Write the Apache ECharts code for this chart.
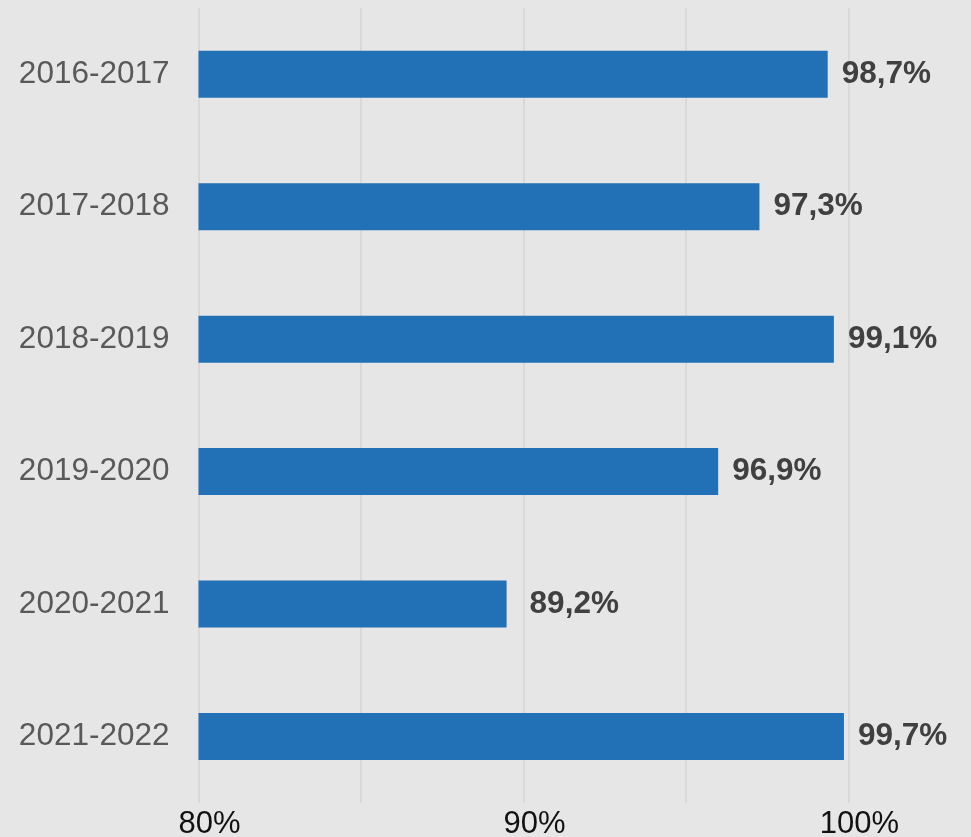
<!DOCTYPE html>
<html>
<head>
<meta charset="utf-8">
<script src="https://cdn.jsdelivr.net/npm/echarts@6/dist/echarts.min.js"></script>
<style>
  html, body { margin: 0; padding: 0; background: #e6e6e6; }
  #chart { width: 971px; height: 837px; }
</style>
</head>
<body>
<div id="chart"></div>
<script>
// Categories (top to bottom)
const categories = ['2016-2017', '2017-2018', '2018-2019', '2019-2020', '2020-2021', '2021-2022'];
// Bar lengths (percent)
const barValues = [99.36, 97.26, 99.55, 95.99, 89.48, 99.86];
// Value label texts as printed in the picture
const labelTexts = ['98,7%', '97,3%', '99,1%', '96,9%', '89,2%', '99,7%'];
// X axis tick labels shown
const xTickLabels = [80, 90, 100];

const FONT = '"Liberation Sans", Arial, sans-serif';

const seriesData = barValues.map(function (v, i) {
  const item = { value: v };
  if (i === 4) item.label = { distance: 23 };
  return item;
});

const chart = echarts.init(document.getElementById('chart'), null, { renderer: 'canvas' });
chart.setOption({
  backgroundColor: '#e6e6e6',
  animation: false,
  grid: { left: 198.5, top: 8, bottom: 34.3, right: 25, containLabel: false, outerBoundsMode: 'none' },
  xAxis: {
    type: 'value',
    min: 80,
    max: 103,
    interval: 5,
    axisLine: { show: false },
    axisTick: { show: false },
    splitLine: { show: true, showMaxLine: false, lineStyle: { color: '#d9d9d9', width: 2 } },
    axisLabel: {
      margin: 6,
      color: '#111111',
      fontFamily: FONT,
      fontSize: 31,
      padding: [0, 0, 0, 22],
      formatter: function (v) { return xTickLabels.indexOf(v) >= 0 ? v + '%' : ''; }
    }
  },
  yAxis: {
    type: 'category',
    data: categories,
    inverse: true,
    axisLine: { show: false },
    axisTick: { show: false },
    splitLine: { show: false },
    axisLabel: {
      margin: 29,
      color: '#595959',
      fontFamily: FONT,
      fontSize: 31.5
    }
  },
  series: [{
    type: 'bar',
    data: seriesData,
    barWidth: 47,
    itemStyle: { color: '#2271b7' },
    label: {
      show: true,
      position: 'right',
      distance: 14,
      color: '#404040',
      fontFamily: FONT,
      fontSize: 31.5,
      fontWeight: 'bold',
      formatter: function (p) { return labelTexts[p.dataIndex]; }
    }
  }]
});
</script>
</body>
</html>
